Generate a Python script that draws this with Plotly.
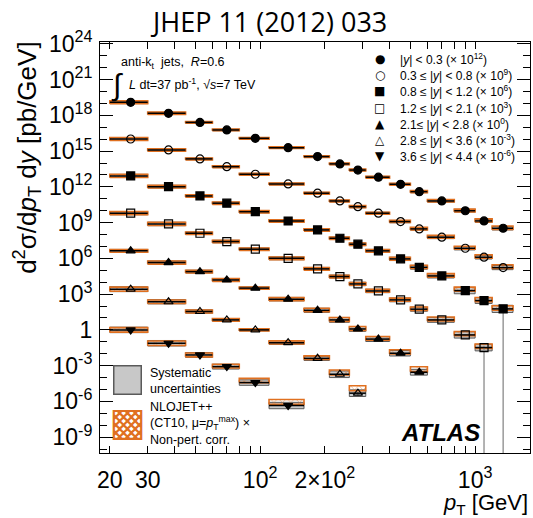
import numpy as np
import plotly.graph_objects as go

# ---------------- data ----------------
pt_edges = [20, 30, 45, 60, 80, 110, 160, 210, 260, 310, 400, 500, 600, 800, 1000, 1200, 1500]

series_labels = [
    "|<i>y</i>| &lt; 0.3 (× 10<sup>12</sup>)",
    "0.3 ≤ |<i>y</i>| &lt; 0.8 (× 10<sup>9</sup>)",
    "0.8 ≤ |<i>y</i>| &lt; 1.2 (× 10<sup>6</sup>)",
    "1.2 ≤ |<i>y</i>| &lt; 2.1 (× 10<sup>3</sup>)",
    "2.1≤ |<i>y</i>| &lt; 2.8 (× 10<sup>0</sup>)",
    "2.8 ≤ |<i>y</i>| &lt; 3.6 (× 10<sup>-3</sup>)",
    "3.6 ≤ |<i>y</i>| &lt; 4.4 (× 10<sup>-6</sup>)",
]
legend_glyphs = ["●", "○", "■", "□", "▲", "△", "▼"]
scale_factors = [1e12, 1e9, 1e6, 1e3, 1.0, 1e-3, 1e-6]

# cross sections [pb/GeV] (unscaled)
xsec_y00_03 = [1.26e7, 1.5e6, 2.6e5, 6.0e4, 1.2e4, 1.95e3, 3.5e2, 85, 26, 6.5, 1.66, 0.40, 0.066, 0.010, 1.4e-3, 3.4e-4]
xsec_y03_08 = [1.05e7, 1.26e6, 2.24e5, 5.0e4, 1.15e4, 1.78e3, 2.95e2, 66, 22, 6.2, 1.23, 0.30, 0.060, 7.1e-3, 1.26e-3, 1.7e-4]
xsec_y08_12 = [8.3e6, 1.05e6, 1.74e5, 4.3e4, 8.3e3, 1.38e3, 2.45e2, 49, 15.5, 4.3, 0.91, 0.18, 0.034, 2.0e-3, 2.9e-4, 5.8e-5]
xsec_y12_21 = [6.2e6, 7.8e5, 1.29e5, 2.6e4, 5.9e3, 1.02e3, 1.32e2, 30, 7.2, 1.86, 0.33, 0.055, 6.9e-3, 3.8e-4, 3.3e-5]
xsec_y21_28 = [4.3e6, 4.5e5, 7.8e4, 1.55e4, 3.2e3, 3.8e2, 44, 6.9, 1.2, 0.17, 0.011, 2.8e-4]
xsec_y28_36 = [2.6e6, 2.3e5, 3.5e4, 6.9e3, 1.0e3, 85, 4.1, 0.19, 4.9e-3]
xsec_y36_44 = [1.0e6, 7.6e4, 7.9e3, 8.3e2, 38, 0.45]

# relative systematic uncertainties
sys_y00_03 = [0.28, 0.22, 0.18, 0.17, 0.17, 0.17, 0.17, 0.17, 0.18, 0.18, 0.20, 0.22, 0.25, 0.30, 0.35, 0.40]
sys_y03_08 = [0.30, 0.25, 0.20, 0.20, 0.20, 0.20, 0.20, 0.20, 0.22, 0.22, 0.25, 0.28, 0.32, 0.38, 0.42, 0.50]
sys_y08_12 = [0.35, 0.30, 0.25, 0.25, 0.25, 0.25, 0.27, 0.27, 0.30, 0.32, 0.38, 0.45, 0.50, 0.85, 0.75, 1.00]
sys_y12_21 = [0.35, 0.40, 0.28, 0.28, 0.28, 0.32, 0.32, 0.35, 0.40, 0.40, 0.45, 0.50, 0.60, 0.85, 0.90]
sys_y21_28 = [0.32, 0.38, 0.32, 0.32, 0.28, 0.40, 0.50, 0.60, 0.60, 0.60, 0.70, 0.75]
sys_y28_36 = [0.60, 0.50, 0.40, 0.30, 0.22, 0.40, 0.50, 0.90, 0.90]
sys_y36_44 = [0.70, 0.70, 0.60, 0.60, 0.70, 0.85]

# NLOJET++ relative uncertainty and theory/data ratio
thy_y00_03 = [0.32, 0.25, 0.20, 0.18, 0.18, 0.18, 0.18, 0.18, 0.20, 0.20, 0.22, 0.25, 0.28, 0.30, 0.35, 0.40]
thy_y03_08 = [0.32, 0.28, 0.20, 0.20, 0.20, 0.20, 0.20, 0.20, 0.22, 0.22, 0.25, 0.28, 0.30, 0.35, 0.40, 0.45]
thy_y08_12 = [0.35, 0.30, 0.25, 0.25, 0.25, 0.25, 0.25, 0.25, 0.28, 0.30, 0.32, 0.35, 0.40, 0.50, 0.50, 0.55]
thy_y12_21 = [0.35, 0.35, 0.25, 0.25, 0.25, 0.28, 0.28, 0.30, 0.30, 0.32, 0.35, 0.40, 0.45, 0.50, 0.55]
thy_y21_28 = [0.30, 0.35, 0.30, 0.30, 0.25, 0.35, 0.40, 0.45, 0.45, 0.45, 0.50, 0.60]
thy_y28_36 = [0.50, 0.40, 0.35, 0.28, 0.22, 0.35, 0.40, 0.60, 0.62]
thy_y36_44 = [0.55, 0.55, 0.45, 0.45, 0.50, 0.60]

ratio_y00_03 = [1.0, 1.0, 1.0, 1.0, 1.0, 1.0, 1.0, 1.0, 1.0, 1.0, 1.0, 1.0, 1.05, 1.05, 1.1, 1.1]
ratio_y03_08 = [1.0, 1.0, 1.0, 1.0, 1.0, 1.0, 1.0, 1.0, 1.0, 1.0, 1.05, 1.05, 1.1, 1.1, 1.15, 1.2]
ratio_y08_12 = [1.0, 1.0, 1.0, 1.0, 1.0, 1.0, 1.0, 1.0, 1.0, 1.0, 1.05, 1.1, 1.1, 1.3, 1.2, 1.2]
ratio_y12_21 = [1.0, 1.0, 1.0, 1.0, 1.0, 1.0, 1.0, 1.0, 1.0, 1.05, 1.05, 1.1, 1.2, 1.3, 1.3]
ratio_y21_28 = [1.0, 1.0, 1.0, 1.0, 1.0, 1.0, 1.05, 1.1, 1.1, 1.15, 1.3, 1.8]
ratio_y28_36 = [1.0, 1.0, 1.0, 1.0, 1.0, 1.05, 1.15, 1.4, 2.6]
ratio_y36_44 = [1.0, 1.0, 1.0, 1.1, 1.5, 2.0]

# relative statistical uncertainty of the highest-pT point of each rapidity bin
stat_last_point = [0.15, 0.2, 1.5, 1.2, 0.3, 0.4, 0.3]

y_ticks_exp = list(range(-9, 25, 3))
x_tick_vals = [20, 30, 100, 200, 1000]
x_tick_text = ["20", "30", "10<sup>2</sup>", "2×10<sup>2</sup>", "10<sup>3</sup>"]

# ---------------- styling ----------------
ORANGE = "#E07020"
GREY_FILL = "#C8C8C8"
GREY_LINE = "#5A5A5A"
FONT = "Liberation Sans, Arial, sans-serif"
GLYPH_FONT = "DejaVu Sans"
symbols = ["circle", "circle-open", "square", "square-open",
           "triangle-up", "triangle-up-open", "triangle-down"]

xsecs = [xsec_y00_03, xsec_y03_08, xsec_y08_12, xsec_y12_21, xsec_y21_28, xsec_y28_36, xsec_y36_44]
syss = [sys_y00_03, sys_y03_08, sys_y08_12, sys_y12_21, sys_y21_28, sys_y28_36, sys_y36_44]
thys = [thy_y00_03, thy_y03_08, thy_y08_12, thy_y12_21, thy_y21_28, thy_y28_36, thy_y36_44]
ratios = [ratio_y00_03, ratio_y03_08, ratio_y08_12, ratio_y12_21, ratio_y21_28, ratio_y28_36, ratio_y36_44]


def boxes(lo, hi, low, high):
    xs, ys = [], []
    for a, b, c, d in zip(lo, hi, low, high):
        xs += [a, b, b, a, a, None]
        ys += [c, c, d, d, c, None]
    return xs, ys


fig = go.Figure()
edges = np.array(pt_edges, dtype=float)

for k in range(7):
    n = len(xsecs[k])
    lo = edges[:n]
    hi = edges[1:n + 1]
    ctr = 0.5 * (lo + hi)
    y = np.array(xsecs[k]) * scale_factors[k]
    s = np.array(syss[k])
    t = np.array(thys[k])
    r = np.array(ratios[k])

    # systematic uncertainty band
    bx, by = boxes(lo, hi, y / (1 + s), y * (1 + s))
    fig.add_trace(go.Scatter(x=bx, y=by, mode="lines", fill="toself",
                             fillcolor=GREY_FILL, line=dict(color=GREY_LINE, width=1),
                             name="Systematic uncertainties", showlegend=False, hoverinfo="skip"))
    # NLO prediction band
    yt = y * r
    tx, ty = boxes(lo, hi, yt / (1 + t), yt * (1 + t))
    fig.add_trace(go.Scatter(x=tx, y=ty, mode="lines", fill="toself",
                             fillcolor="rgba(0,0,0,0)",
                             fillpattern=dict(shape="x", fgcolor=ORANGE, bgcolor="rgba(0,0,0,0)",
                                              size=6, solidity=0.25),
                             line=dict(color=ORANGE, width=1.6),
                             name="NLOJET++ (CT10) × Non-pert. corr.",
                             showlegend=False, hoverinfo="skip"))
    # statistical error (only the last point is visible outside the marker)
    up = np.zeros(n)
    dn = np.zeros(n)
    rel = stat_last_point[k]
    dn[-1] = y[-1] - max(y[-1] * (1 - rel), 1e-20)
    up[-1] = y[-1] * min(rel, 0.3)
    fig.add_trace(go.Scatter(
        x=ctr, y=y, mode="markers", name=series_labels[k], showlegend=False,
        marker=dict(symbol=symbols[k], size=8, color="black",
                    line=dict(color="black", width=1.2)),
        error_x=dict(type="data", symmetric=False, array=hi - ctr, arrayminus=ctr - lo,
                     color="black", thickness=1.5, width=0),
        error_y=dict(type="data", symmetric=False, array=up, arrayminus=dn,
                     color="#8A8A8A", thickness=1.3, width=0)))

# rapidity legend as text rows (glyph + label), top-right
legend_anns = []
row_top = 0.959      # paper y of first row
row_step = 0.0395    # paper spacing between rows
for i, (g, lab) in enumerate(zip(legend_glyphs, series_labels)):
    yy = row_top - i * row_step
    legend_anns.append(dict(text=g, xref="paper", yref="paper", x=0.651, y=yy,
                            xanchor="center", yanchor="middle", showarrow=False,
                            font=dict(size=12, family=GLYPH_FONT, color="black")))
    legend_anns.append(dict(text=lab, xref="paper", yref="paper", x=0.693, y=yy,
                            xanchor="left", yanchor="middle", showarrow=False,
                            font=dict(size=12, family=FONT, color="black")))

# band legend (bottom-left): keys + labels
band_legend = [
    dict(text=" ", xref="paper", yref="paper", x=0.064, y=0.1776, xanchor="center",
         yanchor="middle", showarrow=False, width=26, height=27, borderpad=0,
         bgcolor=GREY_FILL, bordercolor=GREY_LINE, borderwidth=1.5,
         font=dict(size=10, family=FONT)),
    dict(text="▩", xref="paper", yref="paper", x=0.064, y=0.076, xanchor="center",
         yanchor="middle", showarrow=False, font=dict(size=39, family=GLYPH_FONT, color=ORANGE)),
    dict(text="Systematic<br>uncertainties", xref="paper", yref="paper", x=0.1116, y=0.176,
         xanchor="left", yanchor="middle", align="left", showarrow=False,
         font=dict(size=12.5, family=FONT)),
    dict(text="NLOJET++<br>(CT10, μ=<i>p</i><sub>T</sub><sup>max</sup>) ×<br>Non-pert. corr.",
         xref="paper", yref="paper", x=0.1116, y=0.071,
         xanchor="left", yanchor="middle", align="left", showarrow=False,
         font=dict(size=12.5, family=FONT)),
]

x_minor = [40, 50, 60, 70, 80, 90, 300, 400, 500, 600, 700, 800, 900]

fig.update_layout(
    width=533, height=518,
    margin=dict(l=100, r=3, t=42, b=65),
    paper_bgcolor="white", plot_bgcolor="white",
    font=dict(family=FONT, color="black"),
    showlegend=False,
    xaxis=dict(type="log", range=[np.log10(18), np.log10(1800)],
               tickvals=x_tick_vals, ticktext=x_tick_text,
               ticks="inside", ticklen=7, tickwidth=1, tickcolor="black",
               minor=dict(tickvals=x_minor, ticks="inside", ticklen=7, tickcolor="black"),
               showline=True, linecolor="black", linewidth=1, mirror="ticks",
               showgrid=False, zeroline=False, ticklabelstandoff=6,
               tickfont=dict(size=23, family=FONT)),
    xaxis2=dict(type="log", overlaying="x", matches="x", anchor="y",
                tickvals=[100, 1000], ticks="inside", ticklen=13, tickcolor="black",
                showticklabels=False, showgrid=False, showline=False, mirror="ticks",
                zeroline=False),
    yaxis=dict(type="log", range=[-10.33, 24.16],
               tickvals=[10.0 ** e for e in y_ticks_exp],
               ticktext=["1" if e == 0 else "10<sup>%d</sup>" % e for e in y_ticks_exp],
               ticks="inside", ticklen=13, tickwidth=1, tickcolor="black",
               minor=dict(tickvals=[10.0 ** e for e in range(-10, 25)], ticks="inside",
                          ticklen=7, tickcolor="black"),
               showline=True, linecolor="black", linewidth=1, mirror="ticks",
               showgrid=False, zeroline=False, ticklabelstandoff=2,
               tickfont=dict(size=23, family=FONT)),
    annotations=[
        dict(text="JHEP 11 (2012) 033", xref="paper", yref="paper", x=0.391, y=1.049,
             xanchor="center", yanchor="middle", showarrow=False,
             font=dict(family="Open Sans", size=27, color="black")),
        dict(text="d<sup>2</sup>σ/d<i>p</i><sub>T</sub> d<i>y</i> [pb/GeV]",
             xref="paper", yref="paper", x=-0.17, y=1.005, xanchor="center", yanchor="top",
             textangle=-90, showarrow=False, font=dict(size=26, family=FONT)),
        dict(text="<i>p</i><sub>T</sub> [GeV]", xref="paper", yref="paper", x=1.0, y=-0.125,
             xanchor="right", yanchor="middle", showarrow=False, font=dict(size=22, family=FONT)),
        dict(text="<b><i>ATLAS</i></b>", xref="paper", yref="paper", x=0.793, y=0.051,
             xanchor="center", yanchor="middle", showarrow=False, font=dict(size=24, family=FONT)),
        dict(text="anti-k<sub>t</sub>  jets,  <i>R</i>=0.6", xref="paper", yref="paper",
             x=0.044, y=0.9496, xanchor="left", yanchor="middle", showarrow=False,
             font=dict(size=12.5, family=FONT)),
        dict(text="<i>L</i> dt=37 pb<sup>-1</sup>, √<i>s</i>=7 TeV", xref="paper", yref="paper",
             x=0.063, y=0.897, xanchor="left", yanchor="middle", showarrow=False,
             font=dict(size=12.5, family=FONT)),
        dict(text="∫", xref="paper", yref="paper", x=0.04, y=0.895,
             xanchor="center", yanchor="middle", showarrow=False,
             font=dict(size=30, family=FONT)),
    ] + legend_anns + band_legend,
)

fig.write_html("out.html")
